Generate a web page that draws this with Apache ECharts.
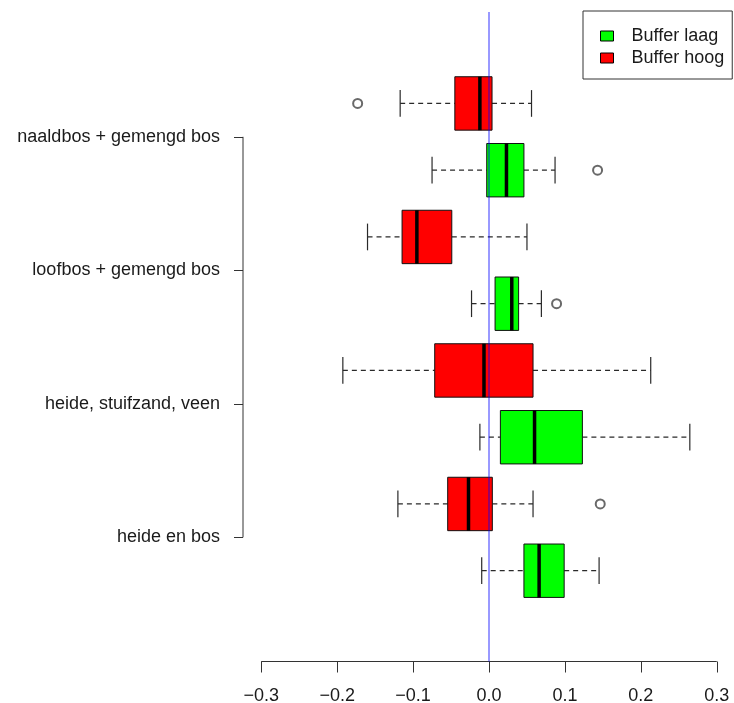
<!DOCTYPE html>
<html>
<head>
<meta charset="utf-8">
<script src="https://cdn.jsdelivr.net/npm/echarts@6/dist/echarts.min.js"></script>
<style>
  html, body { margin: 0; padding: 0; background: #fff; }
  #chart { width: 734px; height: 703px; }
</style>
</head>
<body>
<div id="chart"></div>
<script>
// Landscape types, one pair of boxes each (hoog above laag)
const categories = ['naaldbos + gemengd bos', 'loofbos + gemengd bos', 'heide, stuifzand, veen', 'heide en bos'];

// Box statistics per landscape type: [lower whisker, Q1, median, Q3, upper whisker]
const bufferHoog = [
  [-0.117, -0.045, -0.012, 0.004, 0.056],
  [-0.160, -0.1145, -0.095, -0.049, 0.050],
  [-0.1925, -0.0715, -0.0066, 0.058, 0.213],
  [-0.120, -0.0544, -0.027, 0.0044, 0.058]
];
const bufferLaag = [
  [-0.075, -0.003, 0.023, 0.046, 0.087],
  [-0.023, 0.008, 0.030, 0.039, 0.069],
  [-0.012, 0.015, 0.060, 0.123, 0.2645],
  [-0.0096, 0.046, 0.066, 0.099, 0.145]
];

// Outlying observations per landscape type
const outliersHoog = [[-0.173], [], [], [0.1465]];
const outliersLaag = [[0.143], [0.089], [], []];

// Axis tick values
const xTicks = [-0.3, -0.2, -0.1, 0.0, 0.1, 0.2, 0.3];

// Box positions: hoog at 1,3,5,7 and laag at 2,4,6,8 (top to bottom)
const hoogData = bufferHoog.map((s, i) => [2 * i + 1].concat(s));
const laagData = bufferLaag.map((s, i) => [2 * i + 2].concat(s));
const catTicks = categories.map((c, i) => 2 * i + 1.5);

const outHoogPts = [];
outliersHoog.forEach((arr, i) => arr.forEach(v => outHoogPts.push([v, 2 * i + 1])));
const outLaagPts = [];
outliersLaag.forEach((arr, i) => arr.forEach(v => outLaagPts.push([v, 2 * i + 2])));

const Y_MIN = -0.37, Y_MAX = 9.36;
const X_MIN = -0.324, X_MAX = 0.324;
const FONT = "'Liberation Sans', Arial, sans-serif";
const INK = '#1a1a1a';

function boxRenderer(fill) {
  return function (params, api) {
    const p = api.value(0);
    const lo = api.value(1), q1 = api.value(2), md = api.value(3), q3 = api.value(4), hi = api.value(5);
    const c = (x, y) => api.coord([x, y]);
    const half = 0.4, staple = 0.2;
    const dash = { stroke: '#2a2a2a', lineWidth: 1.2, lineDash: [5, 4] };
    const solid = { stroke: '#2a2a2a', lineWidth: 1.2 };
    const a = c(lo, p), b = c(q1, p), d = c(q3, p), e = c(hi, p);
    const tl = c(q1, p - half), br = c(q3, p + half);
    const mt = c(md, p - half), mb = c(md, p + half);
    const sLoT = c(lo, p - staple), sLoB = c(lo, p + staple);
    const sHiT = c(hi, p - staple), sHiB = c(hi, p + staple);
    return {
      type: 'group',
      children: [
        { type: 'line', shape: { x1: a[0], y1: a[1], x2: b[0], y2: b[1] }, style: dash },
        { type: 'line', shape: { x1: d[0], y1: d[1], x2: e[0], y2: e[1] }, style: dash },
        { type: 'line', shape: { x1: sLoT[0], y1: sLoT[1], x2: sLoB[0], y2: sLoB[1] }, style: solid },
        { type: 'line', shape: { x1: sHiT[0], y1: sHiT[1], x2: sHiB[0], y2: sHiB[1] }, style: solid },
        { type: 'rect', shape: { x: tl[0], y: tl[1], width: br[0] - tl[0], height: br[1] - tl[1] },
          style: { fill: fill, stroke: '#111', lineWidth: 1 } },
        { type: 'line', shape: { x1: mt[0], y1: mt[1], x2: mb[0], y2: mb[1] },
          style: { stroke: '#000', lineWidth: 3.5 } }
      ]
    };
  };
}

const chart = echarts.init(document.getElementById('chart'), null, { renderer: 'canvas' });

chart.setOption({
  backgroundColor: '#fff',
  animation: false,
  textStyle: { fontFamily: FONT },
  legend: {
    data: ['Buffer laag', 'Buffer hoog'],
    orient: 'vertical',
    left: 583,
    top: 11,
    padding: [16, 8, 12, 17],
    itemGap: 4,
    itemWidth: 13,
    itemHeight: 10,
    icon: 'rect',
    borderColor: '#333',
    borderWidth: 1,
    backgroundColor: '#fff',
    itemStyle: { borderColor: '#000', borderWidth: 1 },
    textStyle: { fontSize: 18, color: INK, fontFamily: FONT, padding: [0, 0, 0, 13] }
  },
  grid: { left: 243, top: 12, width: 492, height: 649.5, containLabel: false, outerBoundsMode: 'none' },
  xAxis: {
    type: 'value',
    position: 'bottom',
    min: X_MIN,
    max: X_MAX,
    splitLine: { show: false },
    axisLine: { show: false, onZero: false },
    axisTick: { show: true, customValues: xTicks, length: 11, lineStyle: { color: '#333', width: 1 } },
    axisLabel: {
      customValues: xTicks,
      margin: 26,
      fontSize: 18,
      color: INK,
      fontFamily: FONT,
      formatter: v => v.toFixed(1).replace('-', '\u2212')
    }
  },
  yAxis: {
    type: 'value',
    position: 'left',
    inverse: true,
    min: Y_MIN,
    max: Y_MAX,
    splitLine: { show: false },
    axisLine: { show: false, onZero: false },
    axisTick: { show: true, customValues: catTicks, length: 9, lineStyle: { color: '#333', width: 1 } },
    axisLabel: {
      customValues: catTicks,
      margin: 23,
      fontSize: 18,
      color: INK,
      fontFamily: FONT,
      formatter: v => categories[Math.round((v - 1.5) / 2)]
    }
  },
  series: [
    {
      // bracket of the category axis and the x-axis line between its end ticks
      name: 'assen',
      type: 'custom',
      silent: true,
      clip: false,
      data: [[0]],
      renderItem: function (params, api) {
        const top = api.coord([X_MIN, catTicks[0]]);
        const bot = api.coord([X_MIN, catTicks[catTicks.length - 1]]);
        const xl = api.coord([xTicks[0], Y_MAX]);
        const xr = api.coord([xTicks[xTicks.length - 1], Y_MAX]);
        const st = { stroke: '#333', lineWidth: 1 };
        return {
          type: 'group',
          children: [
            { type: 'line', shape: { x1: top[0], y1: top[1], x2: bot[0], y2: bot[1] }, style: st },
            { type: 'line', shape: { x1: xl[0], y1: xl[1], x2: xr[0], y2: xr[1] }, style: st }
          ]
        };
      },
      z: 1
    },
    {
      name: 'Buffer hoog',
      type: 'custom',
      itemStyle: { color: '#ff0000' },
      encode: { x: [1, 2, 3, 4, 5], y: 0 },
      data: hoogData,
      renderItem: boxRenderer('#ff0000'),
      z: 2
    },
    {
      name: 'Buffer laag',
      type: 'custom',
      itemStyle: { color: '#00ff00' },
      encode: { x: [1, 2, 3, 4, 5], y: 0 },
      data: laagData,
      renderItem: boxRenderer('#00ff00'),
      z: 2
    },
    {
      name: 'uitschieters hoog',
      type: 'scatter',
      symbol: 'emptyCircle',
      symbolSize: 9,
      itemStyle: { color: '#444', borderWidth: 1.3 },
      data: outHoogPts,
      z: 3
    },
    {
      name: 'uitschieters laag',
      type: 'scatter',
      symbol: 'emptyCircle',
      symbolSize: 9,
      itemStyle: { color: '#444', borderWidth: 1.3 },
      data: outLaagPts,
      z: 3
    },
    {
      // reference line at zero
      name: 'nullijn',
      type: 'line',
      showSymbol: false,
      symbol: 'none',
      silent: true,
      lineStyle: { color: 'rgba(0,0,255,0.4)', width: 2 },
      data: [[0, Y_MIN], [0, Y_MAX]],
      z: 4
    }
  ]
});
</script>
</body>
</html>
